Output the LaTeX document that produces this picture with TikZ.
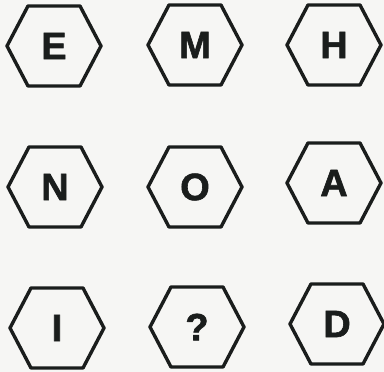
\documentclass[tikz,border=0pt]{standalone}
\usepackage{fontspec}
\setmainfont{Liberation Sans}
\newfontfamily\heavy{Liberation Sans Bold}[FakeBold=1.6]
\definecolor{ink}{HTML}{1A1D1C}
\definecolor{paper}{HTML}{F6F6F4}
\begin{document}
\begin{tikzpicture}[x=1pt,y=1pt,
  letter/.style={font=\fontsize{38}{38}\heavy, text=ink, inner sep=0pt},
  hexline/.style={draw=ink, line width=3.4pt, line join=round}]
\fill[paper] (0,0) rectangle (384,372);
\useasboundingbox (0,0) rectangle (384,372);
\foreach \nm/\t/\x/\y in {e/E/54/326, m/M/195/327, h/H/334/327,
                          n/N/55/185, o/O/195/185, a/A/334/189,
                          i/I/57/44, q/?/197/45, d/D/337/48}{
  \node[letter] (\nm) at (\x,\y) {\t};
  \draw[hexline] ([shift={(-47,0)}]\nm.center) -- ([shift={(-26,40)}]\nm.center)
     -- ([shift={(26,40)}]\nm.center) -- ([shift={(47,0)}]\nm.center)
     -- ([shift={(26,-40)}]\nm.center) -- ([shift={(-26,-40)}]\nm.center) -- cycle;
}
\end{tikzpicture}
\end{document}
